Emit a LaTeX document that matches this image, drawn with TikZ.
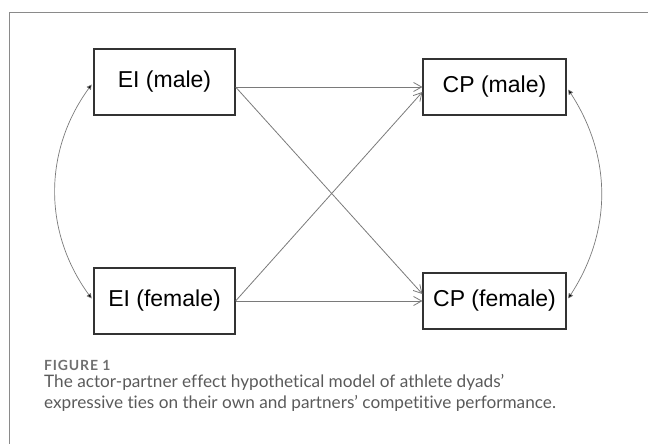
\documentclass[tikz,border=0pt]{standalone}
\usepackage{fontspec}
\setmainfont{Liberation Sans}
\newfontfamily\capfont[Ligatures={NoCommon,NoRare}]{Lato}
\newfontfamily\figfont[LetterSpace=6]{Lato}
\usetikzlibrary{arrows.meta,calc}
\definecolor{framegray}{HTML}{8A8A8A}
\definecolor{linegray}{HTML}{7A7A7A}
\definecolor{boxgray}{HTML}{333333}
\definecolor{capgray}{HTML}{5A5A5A}
\definecolor{figgray}{HTML}{707070}
\tikzset{
  varbox/.style={draw=boxgray, line width=1.2pt, fill=white, inner sep=0pt,
    font=\fontsize{23}{27}\selectfont},
  path/.style={draw=linegray, line width=0.8pt, -{Straight Barb[length=8pt,width=9pt,line width=0.8pt]}},
  cov/.style={draw=linegray, line width=0.7pt, {Triangle[length=5pt,width=5pt,fill=black]}-{Triangle[length=5pt,width=5pt,fill=black]}, shorten <=3pt, shorten >=3pt},
  captext/.style={anchor=base west, inner sep=0pt, text=capgray, font=\capfont\fontsize{17.2}{21.5}\selectfont}
}
\begin{document}
\begin{tikzpicture}[x=1pt,y=-1pt]
\useasboundingbox (0,0) rectangle (648,444);
\draw[framegray, line width=1pt] (9,444) -- (9,12.5) -- (648,12.5);
\node[varbox, minimum width=141pt, minimum height=66pt] (eim) at (164.5,82) {EI (male)};
\node[varbox, minimum width=141pt, minimum height=66pt] (eif) at (164.5,301) {EI (female)};
\node[varbox, minimum width=143pt, minimum height=56pt] (cpm) at (494.5,87) {CP (male)};
\node[varbox, minimum width=143pt, minimum height=56pt] (cpf) at (494.5,301) {CP (female)};
\coordinate (eimo) at ($(eim.east)+(0,5)$);
\coordinate (cpmi) at ($(cpm.west)+(0,5)$);
\coordinate (cpfi) at ($(cpf.west)+(0,-7)$);
\draw[path] (eimo) -- (cpm.west);
\draw[path] (eimo) -- (cpfi);
\draw[path] (eif.east) -- (cpmi);
\draw[path] (eif.east) -- (cpf.west);
\draw[cov] (eim.west) to[bend right=36] (eif.west);
\draw[cov] (cpm.east) to[bend left=33] (cpf.east);
\node[anchor=base west, inner sep=0pt, text=figgray, font=\figfont\bfseries\fontsize{14}{16}\selectfont] (fig) at (44,370.7) {FIGURE 1};
\node[captext] (cap1) at (44,387.3) {The actor-partner effect hypothetical model of athlete dyads’};
\node[captext] (cap2) at (44,408.8) {expressive ties on their own and partners’ competitive performance.};
\end{tikzpicture}
\end{document}
